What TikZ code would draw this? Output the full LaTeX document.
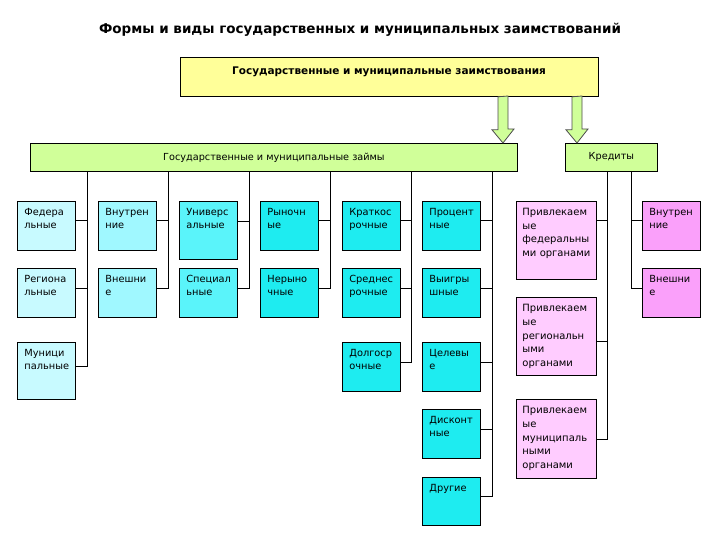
\documentclass[tikz,border=0pt]{standalone}
\usepackage{fontspec}
\setmainfont{DejaVu Sans}

\definecolor{zyellow}{RGB}{255,255,153}
\definecolor{zgreen}{RGB}{208,255,153}
\definecolor{cyanA}{RGB}{200,250,255}
\definecolor{cyanB}{RGB}{160,248,255}
\definecolor{cyanC}{RGB}{90,244,250}
\definecolor{cyanD}{RGB}{30,236,240}
\definecolor{pinkA}{RGB}{255,204,255}
\definecolor{pinkB}{RGB}{250,160,250}

\begin{document}
\begin{tikzpicture}[
    x=1bp, y=-1bp,
    title/.style={font=\bfseries\fontsize{13.5bp}{16bp}\selectfont},
    head/.style={draw, line width=0.8bp, fill=zyellow, anchor=north, minimum width=418bp, inner sep=0pt, text height=17bp, text depth=22bp, font=\bfseries\fontsize{10.5bp}{13bp}\selectfont},
    bar/.style={draw, line width=0.8bp, fill=zgreen, anchor=north west, minimum height=28bp, inner sep=0pt, font=\fontsize{9.7bp}{12bp}\selectfont},
    cell/.style={draw, line width=0.8bp, anchor=north west, inner xsep=7bp, inner ysep=0pt, text width=44bp, text height=14bp, text depth=35bp, align=left, font=\fontsize{9.8bp}{13.5bp}\selectfont},
    credit/.style={cell, fill=pinkA, inner xsep=6bp, text width=68bp, text depth=64bp, font=\fontsize{10bp}{13.8bp}\selectfont},
    bigarrow/.style={draw=black!70, line width=0.8bp, fill=zgreen},
    line/.style={line width=0.8bp},
]
    \useasboundingbox (0,0) rectangle (720,540);

    % top levels
    \node[title] (ttl) at (360,30) {Формы и виды государственных и муниципальных заимствований};
    \node[head] (zaimst) at (389,57) {Государственные и муниципальные заимствования};
    \node[bar, minimum width=487bp] (zaim) at (30,143) {Государственные и муниципальные займы};
    \node[bar, minimum width=92bp] (kred) at (565,143) {Кредиты};

    \coordinate (ar1) at (503,0);
    \coordinate (ar2) at (577,0);
    \draw[bigarrow] ([xshift=-5bp]zaimst.south -| ar1) -- ++(0,33) -- ++(-6,0) -- (ar1 |- zaim.north) -- ++(11,-14) -- ++(-6,0) -- ++(0,-33) -- cycle;
    \draw[bigarrow] ([xshift=-5bp]zaimst.south -| ar2) -- ++(0,33) -- ++(-6,0) -- (ar2 |- kred.north) -- ++(11,-14) -- ++(-6,0) -- ++(0,-33) -- cycle;

    % loans
    \node[cell, fill=cyanA] (f1) at (17,201) {Федера\\льные};
    \node[cell, fill=cyanA] (f2) at (17,268) {Региона\\льные};
    \node[cell, fill=cyanA, text depth=43bp] (f3) at (17,342) {Муници\\пальные};

    \node[cell, fill=cyanB] (v1) at (98,201) {Внутрен\\ние};
    \node[cell, fill=cyanB] (v2) at (98,268) {Внешни\\е};

    \node[cell, fill=cyanC, text depth=44bp] (u1) at (179,201) {Универс\\альные};
    \node[cell, fill=cyanC] (u2) at (179,268) {Специал\\ьные};

    \node[cell, fill=cyanD] (r1) at (260,201) {Рыночн\\ые};
    \node[cell, fill=cyanD] (r2) at (260,268) {Нерыно\\чные};

    \node[cell, fill=cyanD] (k1) at (342,201) {Краткос\\рочные};
    \node[cell, fill=cyanD] (k2) at (342,268) {Среднес\\рочные};
    \node[cell, fill=cyanD] (k3) at (342,342) {Долгоср\\очные};

    \node[cell, fill=cyanD] (p1) at (422,201) {Процент\\ные};
    \node[cell, fill=cyanD] (p2) at (422,268) {Выигры\\шные};
    \node[cell, fill=cyanD] (p3) at (422,342) {Целевы\\е};
    \node[cell, fill=cyanD] (p4) at (422,409) {Дисконт\\ные};
    \node[cell, fill=cyanD, text depth=34bp] (p5) at (422,477) {Другие};

    % credits
    \node[credit] (c1) at (516,201) {Привлекаем\\ые\\федеральны\\ми органами};
    \node[credit] (c2) at (516,297) {Привлекаем\\ые\\региональн\\ыми\\органами};
    \node[credit, text depth=65bp] (c3) at (516,399) {Привлекаем\\ые\\муниципаль\\ными\\органами};

    \node[cell, fill=pinkB] (e1) at (642,201) {Внутрен\\ние};
    \node[cell, fill=pinkB] (e2) at (642,268) {Внешни\\е};

    % buses
    \foreach \i/\x in {1/87, 2/168, 3/249, 4/330, 5/411, 6/492}
        \coordinate (b\i) at (\x,171);
    \coordinate (b7) at (607,171);
    \coordinate (b8) at (631,171);

    \foreach \n in {f1,f2,f3} \draw[line] ([yshift=5bp]\n.east) -| (b1);
    \foreach \n in {v1,v2} \draw[line] ([yshift=5bp]\n.east) -| (b2);
    \draw[line] ([yshift=9bp]u1.east) -| (b3);
    \draw[line] ([yshift=5bp]u2.east) -| (b3);
    \foreach \n in {r1,r2} \draw[line] ([yshift=5bp]\n.east) -| (b4);
    \foreach \n in {k1,k2,k3} \draw[line] ([yshift=5bp]\n.east) -| (b5);
    \foreach \n in {p1,p2,p3,p4,p5} \draw[line] ([yshift=5bp]\n.east) -| (b6);
    \draw[line] ([yshift=20bp]c1.east) -| (b7);
    \draw[line] ([yshift=-5bp]c2.east) -| (b7);
    \draw[line] (c3.east) -| (b7);
    \foreach \n in {e1,e2} \draw[line] ([yshift=5bp]\n.west) -| (b8);
\end{tikzpicture}
\end{document}
